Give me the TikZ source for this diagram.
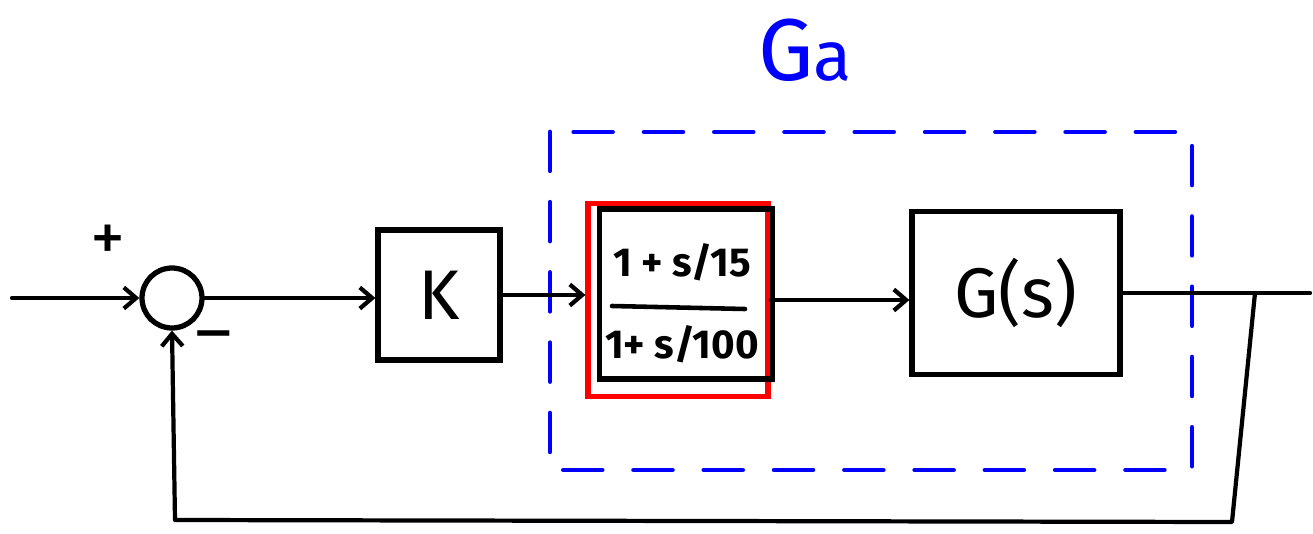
\documentclass[tikz,border=0pt]{standalone}
\usepackage{fontspec}
\setmainfont{Fira Sans}
\usetikzlibrary{arrows.meta}
\begin{document}
\begin{tikzpicture}[x=0.02cm,y=-0.02cm,
  wire/.style={line width=2.4pt,line cap=round,line join=round},
  flow/.style={wire,-{Straight Barb[length=7pt,width=12pt]}},
  blockbox/.style={draw,line width=3pt,inner sep=0pt},
  lbl/.style={font=\fontsize{40}{42}\selectfont},
  fracpart/.style={font=\fontsize{23}{25}\selectfont\bfseries,inner sep=0pt}]
\useasboundingbox (0,0) rectangle (1313,534);

% group boundary
\draw[blue,line width=2.8pt,dash pattern=on 22pt off 18pt,line cap=round]
  (550,132) rectangle (1192,470);
\node[blue,font=\fontsize{50}{52}\selectfont] (glabel) at (805,50) {G\fontsize{40}{42}\selectfont a};

% summing junction
\node[draw,circle,line width=3pt,minimum size=1.2cm,inner sep=0pt] (sum) at (172,298) {};
\node[lbl] (plus) at (108,243) {+};
\node[lbl] (minus) at (214,343) {–};
\coordinate (in) at (12,298);

% blocks
\node[blockbox,minimum width=2.44cm,minimum height=2.6cm] (k) at (439,295) {};
\node[lbl] at (k) {K};

\node[draw=red,line width=3pt,minimum width=3.6cm,minimum height=3.86cm,inner sep=0pt] (comp) at (678,300) {};
\node[blockbox,minimum width=3.46cm,minimum height=3.4cm] (lead) at (686,294) {};
\node[fracpart] (num) at (682,262) {1 + s/15};
\node[fracpart] (den) at (682,344) {1+ s/100};
\draw[line width=2.6pt,line cap=round] (612,306) -- (745,309);

\node[blockbox,minimum width=4.16cm,minimum height=3.26cm] (plant) at (1016,293) {};
\node[lbl] at (plant) {G(s)};

\coordinate (out) at (1310,293);
\coordinate (tap) at (1255,293);
\coordinate (br) at (1232,522);
\coordinate (bl) at (175,520);

% signal path
\draw[flow] (in) -- (sum.west);
\draw[flow] (sum.east) -- (sum.east -| k.west);
\draw[flow] (k.east) -- (k.east -| comp.west);
\draw[flow] (comp.east) -- (comp.east -| plant.west);
\draw[wire] (plant.east) -- (out);
\draw[flow] (tap) -- (br) -- (bl) -- (sum.south);
\end{tikzpicture}
\end{document}
